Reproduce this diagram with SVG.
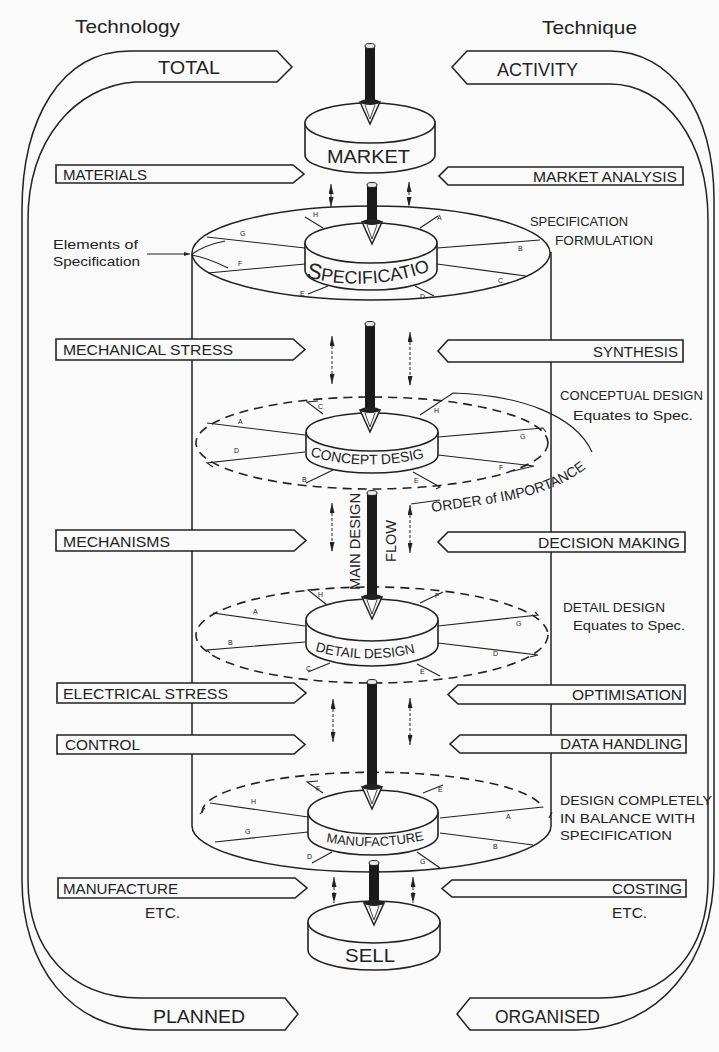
<svg xmlns="http://www.w3.org/2000/svg" width="719" height="1052" viewBox="0 0 719 1052">
<defs>
<style>
.ln{fill:none;stroke:#222;stroke-width:1.5}
.th{fill:none;stroke:#222;stroke-width:1.1}
.ds{fill:none;stroke:#222;stroke-width:1.6;stroke-dasharray:9 6}
.box{fill:#fafafa;stroke:#222;stroke-width:1.6}
.disk{fill:#fafafa;stroke:#222;stroke-width:1.6}
.t{font-family:"Liberation Sans",Arial,sans-serif;fill:#222}
.lb{font-size:15px}
.big{font-size:19px}
.an{font-size:13px}
.el{font-size:7px}
.dbl{fill:none;stroke:#222;stroke-width:1;stroke-dasharray:3 2;marker-start:url(#ah);marker-end:url(#ah)}
.rod{fill:#1a1a1a}
.cap{fill:#e8e8e8;stroke:#222;stroke-width:1}
</style>
<marker id="ah" viewBox="0 0 10 10" refX="10" refY="5" markerWidth="10" markerHeight="5" markerUnits="userSpaceOnUse" orient="auto-start-reverse" preserveAspectRatio="none"><path d="M0,0 L10,5 L0,10 Z" fill="#222"/></marker>
<marker id="sa" viewBox="0 0 10 10" refX="10" refY="5" markerWidth="6" markerHeight="4" markerUnits="userSpaceOnUse" orient="auto" preserveAspectRatio="none"><path d="M0,0 L10,5 L0,10 Z" fill="#222"/></marker>
<g id="cone"><path d="M-10 0 L0 22 L10 0 Z" fill="#fafafa" stroke="#222" stroke-width="1.5"/><path d="M-5 3 L0 17 L5 3" fill="none" stroke="#444" stroke-width="1"/><ellipse cx="0" cy="0" rx="10" ry="3" fill="#222"/></g>
<path id="p-spec" d="M306 277 Q372 294 438 268"/>
<path id="p-concept" d="M310 456 Q372 474 438 454"/>
<path id="p-detail" d="M315 651 Q370 666 426 650"/>
<path id="p-manu" d="M326 842 Q378 852 432 838"/>
<path id="p-order" d="M432 512 C500 502 565 498 602 452"/>
</defs>
<rect x="0" y="0" width="719" height="1052" fill="#fafafa"/>

<g id="frame-left">
<path class="ln" d="M277 51 L292 67 L277 82 L135 82 C75 86 28 140 28 220 L28 880 C28 950 70 998 140 998 L285 998 L298 1014 L285 1030 L150 1030 C70 1030 22 965 22 880 L22 210 C22 120 60 51 130 51 Z"/>
<text class="t big" x="158" y="74" textLength="62" lengthAdjust="spacingAndGlyphs">TOTAL</text>
<text class="t big" x="153" y="1023" textLength="92" lengthAdjust="spacingAndGlyphs">PLANNED</text>
<text class="t big" x="75" y="33" textLength="105" lengthAdjust="spacingAndGlyphs">Technology</text>
</g>
<g id="frame-right">
<path class="ln" d="M467 51 L452 67 L467 84 L610 84 C665 84 708 140 708 220 L708 880 C708 950 670 998 600 998 L470 998 L457 1014 L470 1030 L575 1030 C660 1030 714 960 714 870 L714 200 C714 110 670 51 610 51 Z"/>
<text class="t big" x="497" y="76" textLength="81" lengthAdjust="spacingAndGlyphs">ACTIVITY</text>
<text class="t big" x="495" y="1023" textLength="105" lengthAdjust="spacingAndGlyphs">ORGANISED</text>
<text class="t big" x="542" y="34" textLength="95" lengthAdjust="spacingAndGlyphs">Technique</text>
</g>

<g id="design-core">
<ellipse class="ln" cx="371" cy="253" rx="179" ry="47"/>
<path class="ln" d="M192 254 V826 A179.5 46 0 0 0 551 826 V252"/>
<ellipse class="ds" cx="372" cy="443" rx="176" ry="46"/>
<ellipse class="ds" cx="372" cy="635" rx="176" ry="48"/>
<path class="ds" d="M202 813 A171 40 0 0 1 543 808"/>
<path class="th" d="M200 814 L205 808 M552 812 L549 818"/>
</g>

<g id="connectors">
<g class="th">
<path d="M323 228 L305 217"/><path d="M420 228 L438 216"/>
<path d="M305 248 L207 237"/><path d="M305 264 L208 273"/>
<path d="M437 248 L540 240"/><path d="M437 264 L526 276"/>
<path d="M328 286 L308 294"/><path d="M415 286 L434 296"/>
<path d="M323 414 L307 402 L318 401"/>
<path d="M420 415 L453 393 C520 395 575 415 592 452"/>
<path d="M305 435 L207 423"/><path d="M305 452 L207 463 L213 467"/>
<path d="M438 437 L543 428 L546 432"/><path d="M438 455 L534 466 L513 471"/>
<path d="M333 470 L306 483"/><path d="M413 472 L440 487 L436 489"/>
<path d="M411 504 L440 500"/>
<path d="M327 605 L308 590 L318 589"/><path d="M420 603 L443 592"/>
<path d="M305 626 L213 613"/><path d="M305 642 L207 650 L210 653"/>
<path d="M438 626 L538 615 L535 612"/><path d="M438 643 L538 655 L530 657"/>
<path d="M330 663 L308 672"/><path d="M417 664 L440 676"/>
<path d="M323 793 L307 782 L318 781"/><path d="M423 793 L443 785"/>
<path d="M308 817 L210 803"/><path d="M308 832 L215 842"/>
<path d="M440 818 L543 807"/><path d="M440 833 L533 845"/>
<path d="M332 852 L312 863"/><path d="M417 852 L440 868"/>
<path d="M147 254 L190 254" marker-end="url(#sa)"/>
<path d="M192 254 Q205 245 225 241"/><path d="M192 255 Q208 258 228 268"/>
</g>
<g class="t el">
<text x="313" y="217">H</text><text x="437" y="220">A</text><text x="240" y="236">G</text><text x="238" y="266">F</text>
<text x="518" y="251">B</text><text x="498" y="283">C</text><text x="300" y="296">E</text><text x="420" y="299">D</text>
<text x="318" y="409">C</text><text x="434" y="413">H</text><text x="238" y="424">A</text><text x="234" y="453">D</text>
<text x="520" y="439">G</text><text x="499" y="470">F</text><text x="302" y="482">B</text><text x="414" y="483">E</text>
<text x="318" y="597">H</text><text x="435" y="598">F</text><text x="253" y="614">A</text><text x="228" y="645">B</text>
<text x="516" y="626">G</text><text x="493" y="656">D</text><text x="306" y="671">C</text><text x="420" y="674">E</text>
<text x="316" y="791">F</text><text x="438" y="792">E</text><text x="251" y="804">H</text><text x="245" y="834">G</text>
<text x="506" y="819">A</text><text x="493" y="849">B</text><text x="307" y="859">D</text><text x="420" y="864">G</text>
</g>
<g>
<path class="dbl" d="M331 184 V207"/><path class="dbl" d="M409 182 V207"/>
<path class="dbl" d="M332 336 V384"/><path class="dbl" d="M410 332 V386"/>
<path class="dbl" d="M332 503 V552"/><path class="dbl" d="M410 505 V553"/>
<path class="dbl" d="M333 699 V742"/><path class="dbl" d="M410 698 V745"/>
<path class="dbl" d="M334 877 V903"/><path class="dbl" d="M413 877 V903"/>
</g>
</g>

<g id="market">
<path class="disk" d="M305 123 V155 A65 18 0 0 0 435 155 V123"/>
<ellipse class="disk" cx="370" cy="123" rx="65" ry="20"/>
<text class="t big" x="327" y="163" textLength="83" lengthAdjust="spacingAndGlyphs">MARKET</text>
</g>
<g id="specification">
<path class="disk" d="M305 243 V270 A66 20 0 0 0 437 270 V243"/>
<ellipse class="disk" cx="371" cy="243" rx="66" ry="20"/>
<text class="t" font-size="18"><textPath href="#p-spec"><tspan font-size="22">S</tspan>PECIFICATIO</textPath></text>
</g>
<g id="concept-design">
<path class="disk" d="M306 432 V455 A66 18 0 0 0 438 455 V432"/>
<ellipse class="disk" cx="372" cy="432" rx="66" ry="19"/>
<text class="t" font-size="14"><textPath href="#p-concept">CONCEPT DESIG</textPath></text>
</g>
<g id="detail-design">
<path class="disk" d="M306 620 V645 A66 21 0 0 0 438 645 V620"/>
<ellipse class="disk" cx="372" cy="620" rx="66" ry="21"/>
<text class="t" font-size="13.5"><textPath href="#p-detail">DETAIL DESIGN</textPath></text>
</g>
<g id="manufacture">
<path class="disk" d="M308 812 V835 A65 20 0 0 0 438 835 V812"/>
<ellipse class="disk" cx="373" cy="812" rx="65" ry="22"/>
<text class="t" font-size="13"><textPath href="#p-manu">MANUFACTURE</textPath></text>
</g>
<g id="sell">
<path class="disk" d="M308 922 V950 A66 20 0 0 0 440 950 V922"/>
<ellipse class="disk" cx="374" cy="922" rx="66" ry="21"/>
<text class="t big" x="345" y="962" font-size="20" textLength="50" lengthAdjust="spacingAndGlyphs">SELL</text>
</g>

<g id="main-flow">
<rect class="rod" x="365" y="45" width="10" height="57"/><ellipse class="cap" cx="370" cy="46" rx="5" ry="2.5"/><use href="#cone" x="370" y="102"/>
<rect class="rod" x="367" y="184" width="10" height="38"/><ellipse class="cap" cx="372" cy="185" rx="5" ry="2.5"/><use href="#cone" x="372" y="222"/>
<rect class="rod" x="365" y="323" width="10" height="87"/><ellipse class="cap" cx="370" cy="324" rx="5" ry="2.5"/><use href="#cone" x="370" y="410"/>
<rect class="rod" x="367" y="492" width="10" height="105"/><ellipse class="cap" cx="372" cy="493" rx="5" ry="2.5"/><use href="#cone" x="372" y="597"/>
<rect class="rod" x="367" y="681" width="10" height="106"/><ellipse class="cap" cx="372" cy="682" rx="5" ry="2.5"/><use href="#cone" x="372" y="787"/>
<rect class="rod" x="369" y="862" width="10" height="41"/><ellipse class="cap" cx="374" cy="863" rx="5" ry="2.5"/><use href="#cone" x="374" y="903"/>
<text class="t" font-size="15" transform="translate(360,590) rotate(-90)" textLength="97" lengthAdjust="spacingAndGlyphs">MAIN DESIGN</text>
<text class="t" font-size="15" transform="translate(396,562) rotate(-90)" textLength="42" lengthAdjust="spacingAndGlyphs">FLOW</text>
</g>

<g id="left-labels">
<g id="lbl-materials"><path class="box" d="M56 165 H293 L304 174 L293 183 H56 Z"/><text class="t lb" x="63" y="180" textLength="84" lengthAdjust="spacingAndGlyphs">MATERIALS</text></g>
<g id="lbl-mech-stress"><path class="box" d="M56 339 H293 L305 349.5 L293 360 H56 Z"/><text class="t lb" x="63" y="355" textLength="170" lengthAdjust="spacingAndGlyphs">MECHANICAL STRESS</text></g>
<g id="lbl-mechanisms"><path class="box" d="M56 530 H294 L306 540.5 L294 551 H56 Z"/><text class="t lb" x="63" y="547" textLength="107" lengthAdjust="spacingAndGlyphs">MECHANISMS</text></g>
<g id="lbl-elec-stress"><path class="box" d="M57 683 H294 L306 693 L294 703 H57 Z"/><text class="t lb" x="63" y="699" textLength="165" lengthAdjust="spacingAndGlyphs">ELECTRICAL STRESS</text></g>
<g id="lbl-control"><path class="box" d="M57 735 H294 L305 744.5 L294 754 H57 Z"/><text class="t lb" x="65" y="750" textLength="75" lengthAdjust="spacingAndGlyphs">CONTROL</text></g>
<g id="lbl-manufacture"><path class="box" d="M58 878 H295 L307 888 L295 898 H58 Z"/><text class="t lb" x="63" y="894" textLength="115" lengthAdjust="spacingAndGlyphs">MANUFACTURE</text></g>
<text class="t lb" x="145" y="918" textLength="35" lengthAdjust="spacingAndGlyphs">ETC.</text>
</g>

<g id="right-labels">
<g id="lbl-market-analysis"><path class="box" d="M683 167 H448 L439 176 L448 185 H683 Z"/><text class="t lb" x="533" y="182" textLength="144" lengthAdjust="spacingAndGlyphs">MARKET ANALYSIS</text></g>
<g id="lbl-synthesis"><path class="box" d="M683 340 H448 L438 351 L448 362 H683 Z"/><text class="t lb" x="593" y="357" textLength="85" lengthAdjust="spacingAndGlyphs">SYNTHESIS</text></g>
<g id="lbl-decision"><path class="box" d="M685 532 H448 L438 542 L448 552 H685 Z"/><text class="t lb" x="538" y="548" textLength="142" lengthAdjust="spacingAndGlyphs">DECISION MAKING</text></g>
<g id="lbl-optimisation"><path class="box" d="M685 685 H458 L448 694.5 L458 704 H685 Z"/><text class="t lb" x="572" y="700" textLength="110" lengthAdjust="spacingAndGlyphs">OPTIMISATION</text></g>
<g id="lbl-data"><path class="box" d="M686 735 H460 L450 744 L460 753 H686 Z"/><text class="t lb" x="560" y="749" textLength="122" lengthAdjust="spacingAndGlyphs">DATA HANDLING</text></g>
<g id="lbl-costing"><path class="box" d="M686 880 H452 L442 888.5 L452 897 H686 Z"/><text class="t lb" x="612" y="894" textLength="70" lengthAdjust="spacingAndGlyphs">COSTING</text></g>
<text class="t lb" x="612" y="918" textLength="35" lengthAdjust="spacingAndGlyphs">ETC.</text>
</g>

<g id="annotations">
<text class="t an" x="530" y="226" textLength="98" lengthAdjust="spacingAndGlyphs">SPECIFICATION</text>
<text class="t an" x="555" y="245" textLength="98" lengthAdjust="spacingAndGlyphs">FORMULATION</text>
<text class="t an" x="560" y="400" textLength="143" lengthAdjust="spacingAndGlyphs">CONCEPTUAL DESIGN</text>
<text class="t an" x="573" y="420" textLength="120" lengthAdjust="spacingAndGlyphs">Equates to Spec.</text>
<text class="t an" x="563" y="612" textLength="102" lengthAdjust="spacingAndGlyphs">DETAIL DESIGN</text>
<text class="t an" x="573" y="630" textLength="112" lengthAdjust="spacingAndGlyphs">Equates to Spec.</text>
<text class="t an" x="560" y="805" textLength="152" lengthAdjust="spacingAndGlyphs">DESIGN COMPLETELY</text>
<text class="t an" x="560" y="823" textLength="135" lengthAdjust="spacingAndGlyphs">IN BALANCE WITH</text>
<text class="t an" x="560" y="840" textLength="112" lengthAdjust="spacingAndGlyphs">SPECIFICATION</text>
<text class="t an" x="53" y="249" textLength="85" lengthAdjust="spacingAndGlyphs">Elements of</text>
<text class="t an" x="53" y="266" textLength="87" lengthAdjust="spacingAndGlyphs">Specification</text>
<text class="t" font-size="14"><textPath href="#p-order">ORDER of IMPORTANCE</textPath></text>
</g>
</svg>
